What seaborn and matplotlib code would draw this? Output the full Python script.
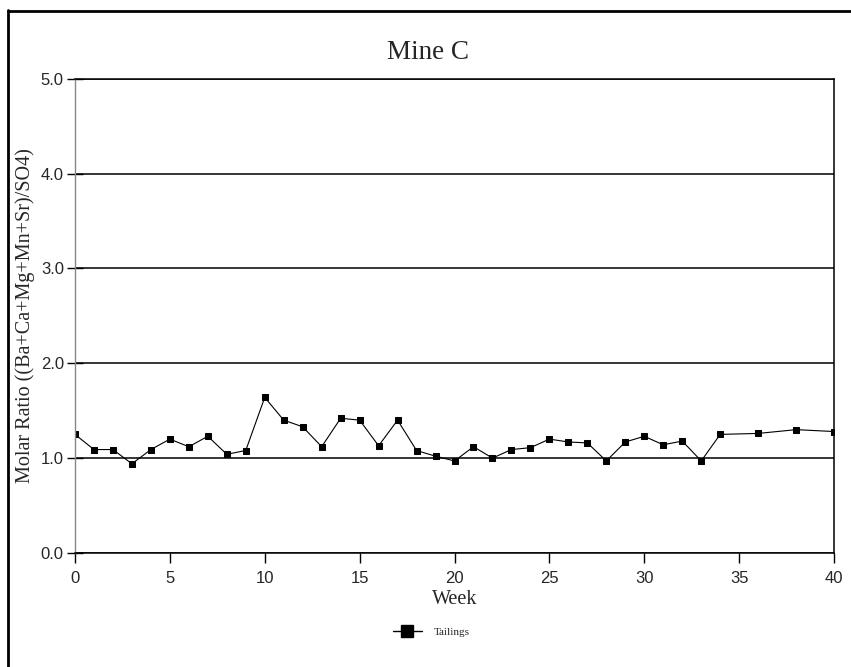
import matplotlib
matplotlib.use("Agg")
import matplotlib.pyplot as plt
from matplotlib.lines import Line2D
import seaborn as sns
import pandas as pd

weeks = list(range(0, 35)) + [36, 38, 40]
ratio = [1.25, 1.09, 1.09, 0.94, 1.09, 1.20, 1.12, 1.23, 1.04, 1.08,
         1.64, 1.40, 1.33, 1.12, 1.42, 1.40, 1.13, 1.40, 1.08, 1.02,
         0.97, 1.12, 1.00, 1.09, 1.11, 1.20, 1.17, 1.16, 0.97, 1.17,
         1.23, 1.14, 1.18, 0.97, 1.25, 1.26, 1.30, 1.28]
series_name = "Tailings"
x_ticks = [0, 5, 10, 15, 20, 25, 30, 35, 40]
y_ticks = [0.0, 1.0, 2.0, 3.0, 4.0, 5.0]
y_tick_labels = ["0.0", "1.0", "2.0", "3.0", "4.0", "5.0"]

df = pd.DataFrame({"Week": weeks, "Ratio": ratio, "Series": series_name})

sns.set_style("white")
plt.rcParams['font.family'] = ['Liberation Serif', 'DejaVu Serif']

fig = plt.figure(figsize=(8.51, 6.67), dpi=100)
ax = fig.add_axes([0.0881, 0.171, 0.892, 0.711])

sns.lineplot(data=df, x="Week", y="Ratio", hue="Series", palette=["black"],
             marker="s", markersize=4.3, markeredgecolor="black",
             linewidth=0.8, ax=ax, legend=False)

ax.set_xlim(0, 40)
ax.set_ylim(0, 5)
ax.set_xticks(x_ticks)
ax.set_yticks(y_ticks)
ax.set_yticklabels(y_tick_labels)
for lab in ax.get_xticklabels() + ax.get_yticklabels():
    lab.set_fontfamily('Liberation Sans')
    lab.set_fontsize(12)

ax.tick_params(axis='x', direction='out', length=7, width=1, color='black',
               bottom=True, pad=6)
ax.tick_params(axis='y', direction='inout', length=12, width=1, color='black',
               left=True, pad=2)
ax.yaxis.grid(True, color='black', linewidth=1.1)
ax.xaxis.grid(False)
ax.set_axisbelow(True)

ax.spines['left'].set_color('#888888')
ax.spines['left'].set_linewidth(1.0)
for side in ['right', 'bottom', 'top']:
    ax.spines[side].set_color('black')
    ax.spines[side].set_linewidth(1.1)

ax.set_title("Mine C", fontsize=19.5, pad=14, x=0.465)
ax.set_xlabel("Week", fontsize=14.5, labelpad=3)
ax.set_ylabel("Molar Ratio ((Ba+Ca+Mg+Mn+Sr)/SO4)", fontsize=14.5, labelpad=4)

# legend
handle = Line2D([], [], color='black', marker='s', markersize=8, linewidth=1.0)
fig.legend([handle], [series_name], loc='center', bbox_to_anchor=(0.507, 0.052),
           frameon=False, prop={'family': 'Liberation Serif', 'size': 8},
           handlelength=2.6, handletextpad=1.1)

# outer frame of the figure page
fig.add_artist(Line2D([8/851, 8/851], [0, 1 - 10/667], color='black', linewidth=2.0,
                      transform=fig.transFigure))
fig.add_artist(Line2D([8/851, 1], [1 - 11/667, 1 - 11/667], color='black', linewidth=2.0,
                      transform=fig.transFigure))

fig.savefig("out.png", dpi=100)
